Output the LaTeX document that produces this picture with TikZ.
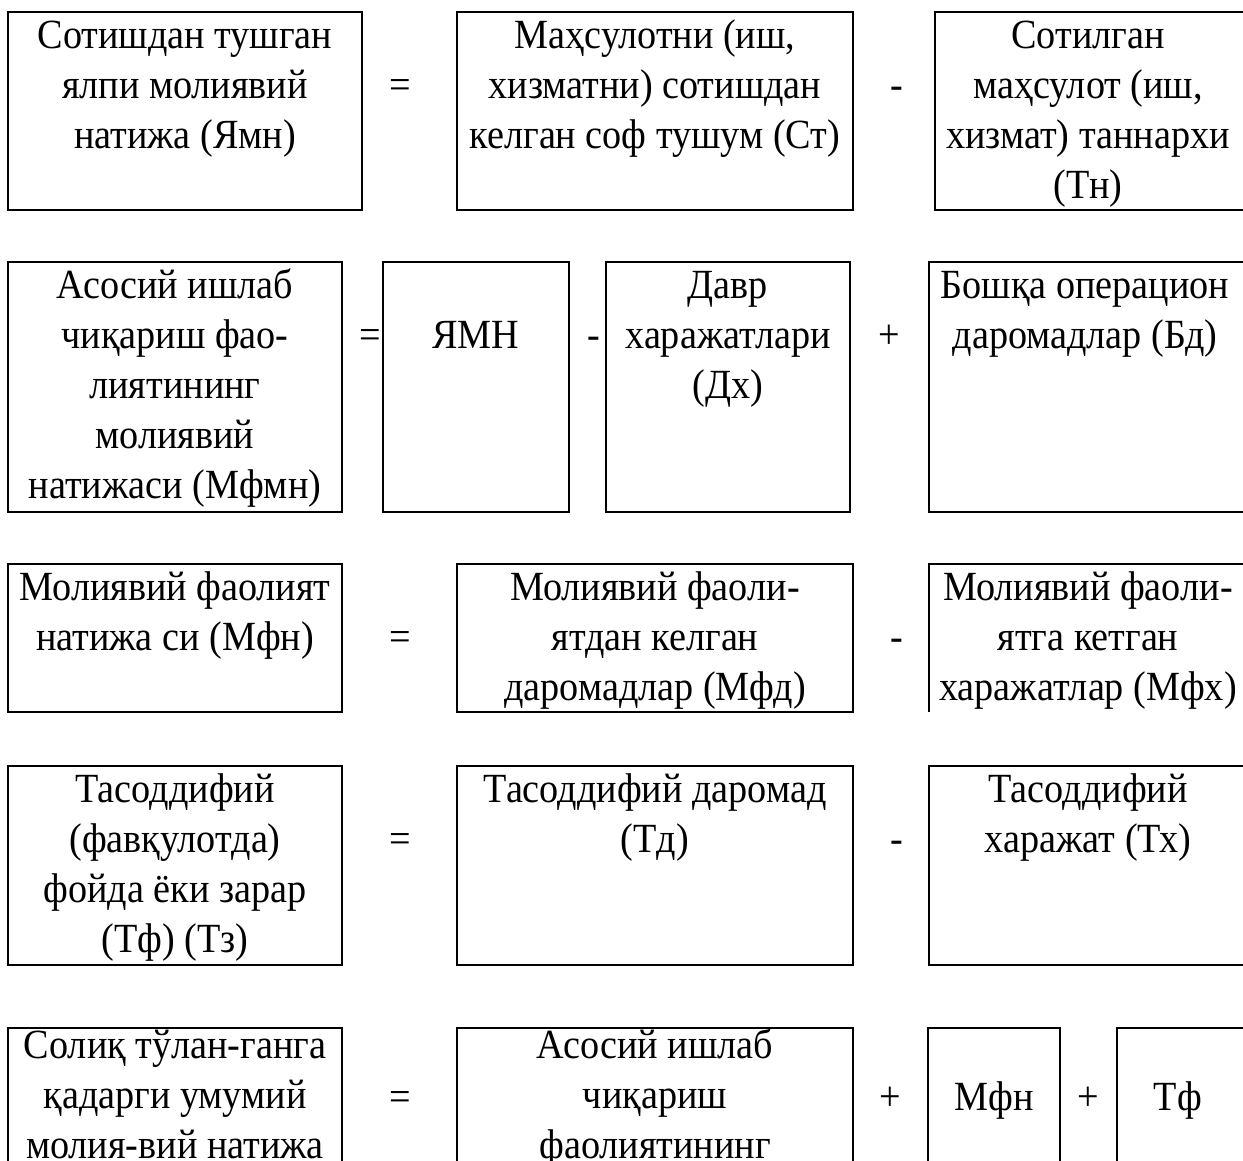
\documentclass[tikz,border=0pt]{standalone}
\usepackage{fontspec}
\setmainfont{Liberation Serif}[FakeStretch=0.92]
\begin{document}
\begin{tikzpicture}[x=1pt,y=-1pt,
  bx/.style={draw, line width=2.3pt, anchor=north west, inner sep=0pt, outer sep=0pt},
  openbx/.style={anchor=north west, inner sep=0pt, outer sep=0pt},
  txt/.style={anchor=north, inner sep=0pt, align=center, font=\fontsize{41.5}{50}\selectfont},
  op/.style={anchor=base, inner sep=0pt, font=\fontsize{41.5}{50}\selectfont}]
\useasboundingbox (0,0) rectangle (1243,1160);
\clip (0,0) rectangle (1243,1160);

% ---------- Row 1 ----------
\node[bx, minimum width=354pt, minimum height=198pt] (A) at (8,12) {};
\node[bx, minimum width=396pt, minimum height=198pt] (B) at (457,12) {};
\node[bx, minimum width=400pt, minimum height=198pt] (C) at (935,12) {};
\node[txt] (At) at (185,13) {\strut Сотишдан тушган\\ялпи молиявий\\натижа (Ямн)};
\node[txt] (Bt) at (655,13) {\strut Маҳсулотни (иш,\\хизматни) сотишдан\\келган соф тушум (Ст)};
\node[txt] (Ct) at (1088,13) {\strut Сотилган\\маҳсулот (иш,\\хизмат) таннархи\\(Тн)};
\node[op] (o11) at (400,98) {=};
\node[op] (o12) at (897,98) {-};

% ---------- Row 2 ----------
\node[bx, minimum width=334pt, minimum height=250pt] (D) at (8,262) {};
\node[bx, minimum width=186pt, minimum height=250pt] (E) at (383,262) {};
\node[bx, minimum width=244pt, minimum height=250pt] (F) at (606,262) {};
\node[bx, minimum width=400pt, minimum height=250pt] (G) at (929,262) {};
\node[txt] (Dt) at (175,263) {\strut Асосий ишлаб\\чиқариш фао-\\лиятининг\\молиявий\\натижаси (Мфмн)};
\node[op] (Et) at (476,348) {ЯМН};
\node[txt] (Ft) at (728,263) {\strut Давр\\харажатлари\\(Дх)};
\node[txt] (Gt) at (1085,263) {\strut Бошқа операцион\\даромадлар (Бд)};
\node[op] (o21) at (370,348) {=};
\node[op] (o22) at (594,348) {-};
\node[op] (o23) at (889,348) {+};

% ---------- Row 3 ----------
\node[bx, minimum width=334pt, minimum height=148pt] (H) at (8,564) {};
\node[bx, minimum width=396pt, minimum height=148pt] (I) at (457,564) {};
\node[openbx, minimum width=400pt, minimum height=148pt] (J) at (929,564) {};
\draw[line width=2.3pt] (J.south west) -- (J.north west) -- (J.north east);
\node[txt] (Ht) at (175,565) {\strut Молиявий фаолият\\натижа си (Мфн)};
\node[txt] (It) at (655,565) {\strut Молиявий фаоли-\\ятдан келган\\даромадлар (Мфд)};
\node[txt] (Jt) at (1088,565) {\strut Молиявий фаоли-\\ятга кетган\\харажатлар (Мфх)};
\node[op] (o31) at (400,650) {=};
\node[op] (o32) at (897,650) {-};

% ---------- Row 4 ----------
\node[bx, minimum width=334pt, minimum height=199pt] (K) at (8,766) {};
\node[bx, minimum width=396pt, minimum height=199pt] (L) at (457,766) {};
\node[bx, minimum width=400pt, minimum height=199pt] (M) at (929,766) {};
\node[txt] (Kt) at (175,767) {\strut Тасоддифий\\(фавқулотда)\\фойда ёки зарар\\(Тф) (Тз)};
\node[txt] (Lt) at (655,767) {\strut Тасоддифий даромад\\(Тд)};
\node[txt] (Mt) at (1088,767) {\strut Тасоддифий\\харажат (Тх)};
\node[op] (o41) at (400,852) {=};
\node[op] (o42) at (897,852) {-};

% ---------- Row 5 ----------
\node[bx, minimum width=334pt, minimum height=200pt] (N) at (8,1028) {};
\node[bx, minimum width=396pt, minimum height=200pt] (O) at (457,1028) {};
\node[bx, minimum width=132pt, minimum height=200pt] (P) at (928,1028) {};
\node[bx, minimum width=200pt, minimum height=200pt] (Q) at (1117,1028) {};
\node[txt] (Nt) at (175,1023) {\strut Солиқ тўлан-ганга\\қадарги умумий\\молия-вий натижа};
\node[txt] (Ot) at (655,1023) {\strut Асосий ишлаб\\чиқариш\\фаолиятининг};
\node[op] (Pt) at (994,1110) {Мфн};
\node[op] (Qt) at (1178,1110) {Тф};
\node[op] (o51) at (400,1110) {=};
\node[op] (o52) at (890,1110) {+};
\node[op] (o53) at (1088,1110) {+};
\end{tikzpicture}
\end{document}
